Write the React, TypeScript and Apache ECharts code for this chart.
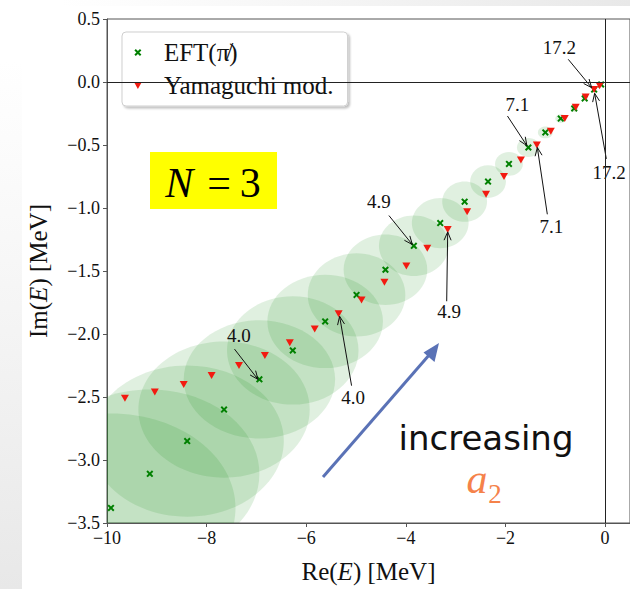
import React, { useEffect, useRef } from "react";
import * as echarts from "echarts";

// Pole positions in the complex energy plane (MeV)
const eftRe = [-9.92, -9.14, -8.39, -7.65, -6.94, -6.27, -5.62, -4.99, -4.41, -3.84, -3.31, -2.82, -2.35, -1.93, -1.54, -1.2, -0.89, -0.62, -0.41, -0.22, -0.08];
const eftIm = [-3.38, -3.11, -2.85, -2.6, -2.36, -2.13, -1.9, -1.69, -1.49, -1.3, -1.12, -0.95, -0.79, -0.65, -0.52, -0.4, -0.29, -0.21, -0.13, -0.06, -0.02];
// Uncertainty half-widths of the EFT poles (MeV)
const eftErrRe = [2.5, 2.2, 1.94, 1.72, 1.52, 1.32, 1.16, 0.98, 0.84, 0.7, 0.57, 0.45, 0.36, 0.28, 0.23, 0.15, 0.11, 0.08, 0.06, 0.04, 0.02];
const eftErrIm = [0.75, 0.67, 0.6, 0.54, 0.47, 0.43, 0.37, 0.33, 0.28, 0.24, 0.2, 0.16, 0.13, 0.094, 0.075, 0.047, 0.035, 0.028, 0.02, 0.016, 0.008];

const yamRe = [-9.64, -9.04, -8.46, -7.9, -7.35, -6.83, -6.33, -5.83, -5.35, -4.89, -4.43, -3.99, -3.57, -3.16, -2.77, -2.39, -2.03, -1.69, -1.37, -1.09, -0.81, -0.59, -0.39, -0.22, -0.11];
const yamIm = [-2.51, -2.46, -2.4, -2.33, -2.25, -2.17, -2.07, -1.96, -1.84, -1.73, -1.59, -1.46, -1.32, -1.17, -1.03, -0.89, -0.75, -0.62, -0.5, -0.39, -0.29, -0.2, -0.12, -0.06, -0.03];

// a2 annotations: label, text position, arrow start, arrow tip
const noteLabels = ["4.0", "4.0", "4.9", "4.9", "7.1", "7.1", "17.2", "17.2"];
const noteText = [[-7.35, -2.015], [-5.06, -2.505], [-4.54, -0.95], [-3.13, -1.82], [-1.76, -0.18], [-1.08, -1.145], [-0.92, 0.27], [0.08, -0.715]];
const noteFrom = [[-7.44, -2.12], [-5.09, -2.41], [-4.34, -1.06], [-3.18, -1.74], [-1.96, -0.27], [-1.16, -1.05], [-0.74, 0.18], [0.025, -0.61]];
const noteTip = [[-6.97, -2.36], [-5.33, -1.86], [-3.87, -1.29], [-3.16, -1.19], [-1.57, -0.505], [-1.36, -0.52], [-0.27, -0.045], [-0.21, -0.09]];

const xTicks = { min: -10, max: 0.5, interval: 2 };
const yTicks = { min: -3.5, max: 0.5, interval: 0.5 };

const EFT_NAME = "EFT(\u03C0\u0338)";
const YAM_NAME = "Yamaguchi mod.";

const SERIF = "'Liberation Serif', 'Times New Roman', serif";
const crossPath = "path://M2,0L5,3L8,0L10,2L7,5L10,8L8,10L5,7L2,10L0,8L3,5L0,2Z";
const triPath = "path://M0,0L10,0L5,9Z";

const minus = (s: string) => s.replace("-", "\u2212");

export default function App() {
  const ref = useRef<HTMLDivElement>(null);

  useEffect(() => {
    if (!ref.current) return;
    const chart = echarts.init(ref.current, null, { renderer: "svg" });

    const ellipseData = eftRe.map((x, i) => [x, eftIm[i], eftErrRe[i], eftErrIm[i]]);
    const noteData = noteLabels.map((_, i) => [
      noteText[i][0], noteText[i][1], noteFrom[i][0], noteFrom[i][1], noteTip[i][0], noteTip[i][1], i,
    ]);

    const option: any = {
      animation: false,
      backgroundColor: "#ffffff",
      grid: {
        left: 107,
        top: 19,
        width: 525,
        height: 508,
        show: true,
        borderColor: "#555",
        borderWidth: 1,
        backgroundColor: "transparent",
      },
      legend: {
        orient: "vertical",
        left: 122,
        top: 32,
        padding: [8, 14, 8, 12],
        itemGap: 8,
        itemWidth: 8,
        itemHeight: 7,
        backgroundColor: "#ffffff",
        borderColor: "#cfcfcf",
        borderWidth: 1,
        borderRadius: 4,
        shadowBlur: 2,
        shadowColor: "rgba(0,0,0,0.25)",
        shadowOffsetX: 2,
        shadowOffsetY: 2,
        itemStyle: { borderWidth: 0 },
        textStyle: { fontFamily: SERIF, fontSize: 25, color: "#111", padding: [0, 0, 0, 17] },
        data: [
          { name: EFT_NAME, icon: crossPath },
          { name: YAM_NAME, icon: triPath },
        ],
      },
      xAxis: {
        type: "value",
        min: xTicks.min,
        max: xTicks.max,
        interval: xTicks.interval,
        name: "{r|Re(}{i|E}{r|) [MeV]}",
        nameLocation: "middle",
        nameGap: 36,
        nameTextStyle: {
          rich: {
            r: { fontFamily: SERIF, fontSize: 25, color: "#111" },
            i: { fontFamily: SERIF, fontSize: 25, fontStyle: "italic", color: "#111" },
          },
        },
        axisLine: { show: true, onZero: false, lineStyle: { color: "#555", width: 1 } },
        axisTick: { show: true, length: 4, lineStyle: { color: "#555" } },
        splitLine: { show: false },
        axisLabel: {
          fontFamily: SERIF,
          fontSize: 18,
          color: "#111",
          margin: 6,
          showMaxLabel: false,
          formatter: (v: number) => minus(String(Math.round(v))),
        },
      },
      yAxis: {
        type: "value",
        min: yTicks.min,
        max: yTicks.max,
        interval: yTicks.interval,
        name: "{r|Im(}{i|E}{r|) [MeV]}",
        nameLocation: "middle",
        nameGap: 56,
        nameRotate: 90,
        nameTextStyle: {
          rich: {
            r: { fontFamily: SERIF, fontSize: 25, color: "#111" },
            i: { fontFamily: SERIF, fontSize: 25, fontStyle: "italic", color: "#111" },
          },
        },
        axisLine: { show: true, onZero: false, lineStyle: { color: "#555", width: 1 } },
        axisTick: { show: true, length: 4, lineStyle: { color: "#555" } },
        splitLine: { show: false },
        axisLabel: {
          fontFamily: SERIF,
          fontSize: 18,
          color: "#111",
          margin: 7,
          formatter: (v: number) => minus(v.toFixed(1)),
        },
      },
      series: [
        {
          type: "custom",
          name: "uncertainty",
          clip: true,
          silent: true,
          z: 1,
          encode: { x: 0, y: 1 },
          data: ellipseData,
          renderItem: (_p: any, api: any) => {
            const c = api.coord([api.value(0), api.value(1)]);
            const s = api.size([api.value(2), api.value(3)]);
            return {
              type: "ellipse",
              shape: { cx: c[0], cy: c[1], rx: s[0], ry: s[1] },
              style: { fill: "rgba(0,128,0,0.12)", stroke: "none" },
            };
          },
        },
        {
          type: "scatter",
          name: EFT_NAME,
          z: 3,
          symbol: crossPath,
          symbolSize: 7,
          itemStyle: { color: "#008000", opacity: 1 },
          data: eftRe.map((x, i) => [x, eftIm[i]]),
          markLine: {
            silent: true,
            symbol: "none",
            label: { show: false },
            lineStyle: { color: "#222", width: 1, type: "solid" },
            data: [{ yAxis: 0 }, { xAxis: 0 }],
          },
        },
        {
          type: "scatter",
          name: YAM_NAME,
          z: 3,
          symbol: triPath,
          symbolSize: [8, 7],
          itemStyle: { color: "#f21a10", opacity: 1 },
          data: yamRe.map((x, i) => [x, yamIm[i]]),
        },
        {
          type: "custom",
          name: "notes",
          silent: true,
          z: 4,
          encode: { x: [0, 2, 4], y: [1, 3, 5] },
          data: noteData,
          renderItem: (_p: any, api: any) => {
            const t = api.coord([api.value(0), api.value(1)]);
            const f = api.coord([api.value(2), api.value(3)]);
            const a = api.coord([api.value(4), api.value(5)]);
            const label = noteLabels[api.value(6)];
            const ang = Math.atan2(a[1] - f[1], a[0] - f[0]);
            const hl = 9;
            const spread = 0.4;
            const h1 = [a[0] - hl * Math.cos(ang - spread), a[1] - hl * Math.sin(ang - spread)];
            const h2 = [a[0] - hl * Math.cos(ang + spread), a[1] - hl * Math.sin(ang + spread)];
            return {
              type: "group",
              children: [
                {
                  type: "line",
                  shape: { x1: f[0], y1: f[1], x2: a[0], y2: a[1] },
                  style: { stroke: "#111", lineWidth: 1 },
                },
                {
                  type: "polyline",
                  shape: { points: [h1, a, h2] },
                  style: { stroke: "#111", lineWidth: 1, fill: "none" },
                },
                {
                  type: "text",
                  x: t[0],
                  y: t[1],
                  style: {
                    text: label,
                    fontFamily: SERIF,
                    fontSize: 19,
                    fill: "#111",
                    align: "center",
                    verticalAlign: "middle",
                  },
                },
              ],
            };
          },
        },
      ],
      graphic: [
        {
          type: "rect",
          silent: true,
          z: -10,
          shape: { x: 0, y: 60, width: 22, height: 529 },
          style: {
            fill: new echarts.graphic.LinearGradient(0, 0, 0, 1, [
              { offset: 0, color: "rgba(235,235,235,0)" },
              { offset: 1, color: "rgba(232,232,232,1)" },
            ]),
          },
        },
        {
          type: "rect",
          silent: true,
          z: -10,
          shape: { x: 60, y: 0, width: 570, height: 6 },
          style: {
            fill: new echarts.graphic.LinearGradient(0, 0, 1, 0, [
              { offset: 0, color: "rgba(235,235,235,0)" },
              { offset: 1, color: "rgba(232,232,232,1)" },
            ]),
          },
        },
        {
          type: "group",
          z: 20,
          children: [
            {
              type: "rect",
              shape: { x: 150, y: 152, width: 127, height: 57 },
              style: { fill: "#ffff00" },
            },
            {
              type: "text",
              x: 213,
              y: 183,
              style: {
                text: "{i|N}{e|=}{n|3}",
                align: "center",
                verticalAlign: "middle",
                rich: {
                  i: { fontFamily: SERIF, fontSize: 42, fontStyle: "italic", fill: "#000" },
                  e: { fontFamily: SERIF, fontSize: 42, fill: "#000", padding: [0, 9, 0, 14] },
                  n: { fontFamily: SERIF, fontSize: 42, fill: "#000" },
                },
              },
            },
          ],
        },
        {
          type: "line",
          z: 20,
          shape: { x1: 323, y1: 477, x2: 430, y2: 354 },
          style: { stroke: "#5a72b6", lineWidth: 3 },
        },
        {
          type: "polygon",
          z: 20,
          shape: { points: [[439, 343], [434.5, 362], [423.5, 352.5]] },
          style: { fill: "#5a72b6" },
        },
        {
          type: "text",
          z: 20,
          x: 486,
          y: 438,
          style: {
            text: "increasing",
            fontFamily: "'DejaVu Sans', sans-serif",
            fontSize: 34,
            fill: "#111",
            align: "center",
            verticalAlign: "middle",
          },
        },
        {
          type: "text",
          z: 20,
          x: 477,
          y: 479,
          style: {
            text: "a",
            fontFamily: SERIF,
            fontSize: 42,
            fontStyle: "italic",
            fill: "#f5824a",
            align: "center",
            verticalAlign: "middle",
          },
        },
        {
          type: "text",
          z: 20,
          x: 495,
          y: 494,
          style: {
            text: "2",
            fontFamily: SERIF,
            fontSize: 27,
            fill: "#f5824a",
            align: "center",
            verticalAlign: "middle",
          },
        },
      ],
    };

    chart.setOption(option);
    return () => chart.dispose();
  }, []);

  return (
    <div
      ref={ref}
      style={{ position: "fixed", left: 0, top: 0, width: 630, height: 589, background: "#ffffff" }}
    />
  );
}
